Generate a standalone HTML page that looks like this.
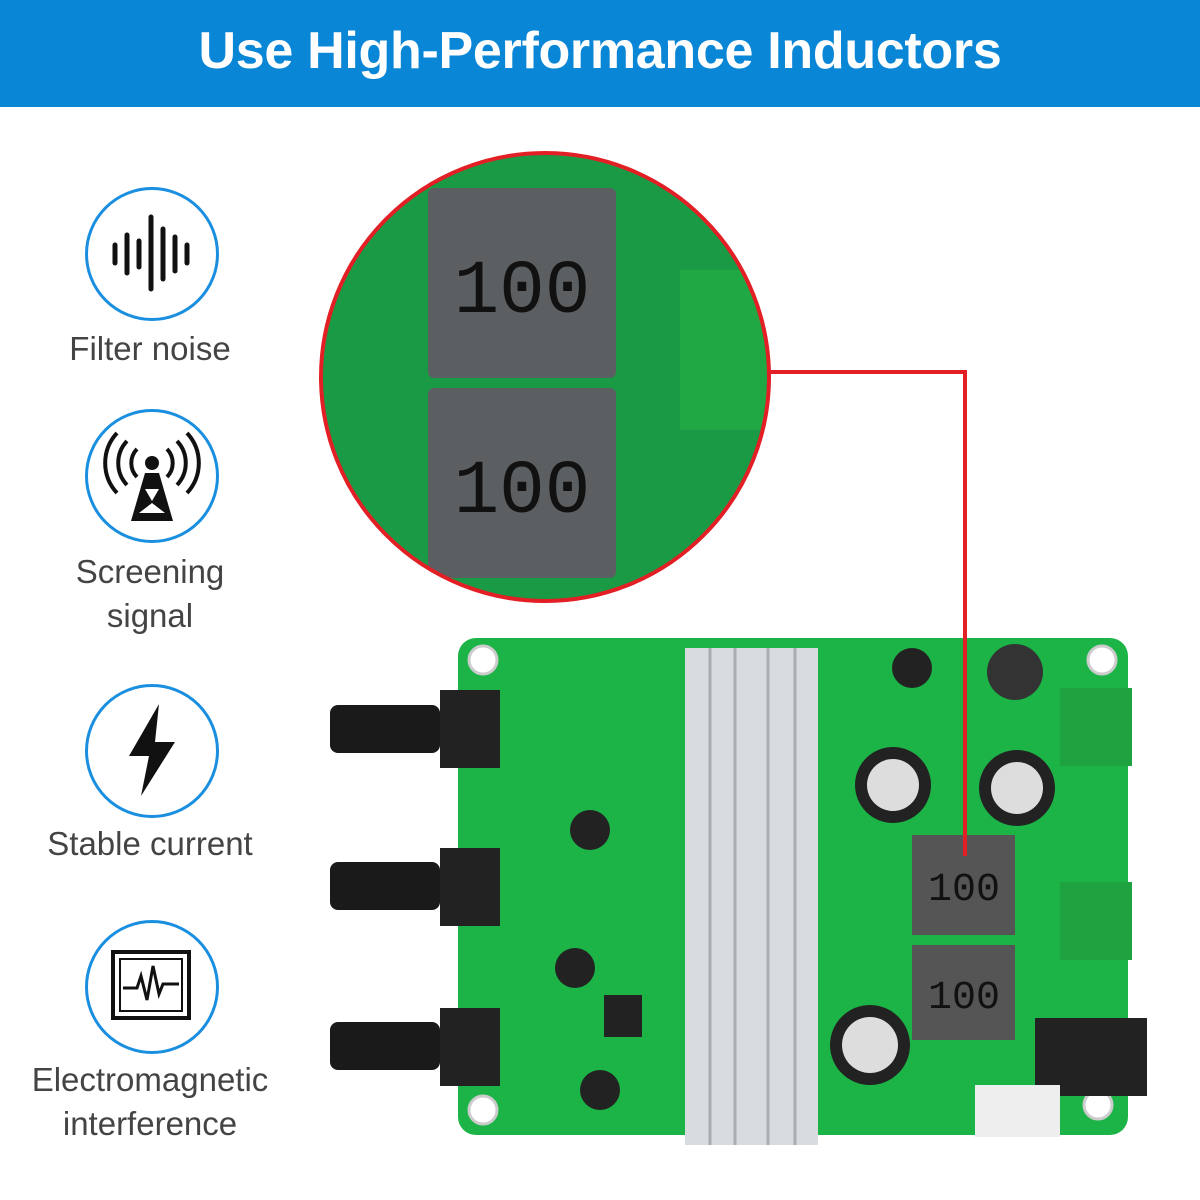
<!DOCTYPE html>
<html><head><meta charset="utf-8"><style>
body{margin:0;width:1200px;height:1200px;background:#fff;position:relative;overflow:hidden;font-family:"Liberation Sans",sans-serif}
.hdr{position:absolute;left:0;top:0;width:1200px;height:107px;background:#0a86d6;color:#fff;font-weight:bold;font-size:52px;text-align:center;line-height:102px;letter-spacing:-0.3px}
.ic{position:absolute;width:128px;height:128px;border:3px solid #1a8fe0;border-radius:50%;left:85px}
.lb{position:absolute;left:0;width:300px;text-align:center;color:#444;font-size:33px;line-height:44px}
.abs{position:absolute}
</style></head><body>
<div class="hdr">Use High-Performance Inductors</div>

<div class="ic" style="top:187px"></div>
<svg class="abs" style="left:85px;top:187px" width="134" height="134"><g stroke="#111" stroke-width="5" stroke-linecap="round">
<line x1="30" y1="58" x2="30" y2="76"/><line x1="42" y1="48" x2="42" y2="86"/><line x1="54" y1="54" x2="54" y2="80"/><line x1="66" y1="30" x2="66" y2="102"/><line x1="78" y1="42" x2="78" y2="92"/><line x1="90" y1="50" x2="90" y2="84"/><line x1="102" y1="58" x2="102" y2="76"/></g></svg>
<div class="lb" style="top:327px">Filter noise</div>

<div class="ic" style="top:409px"></div>
<svg class="abs" style="left:85px;top:409px" width="134" height="134"><g fill="none" stroke="#111" stroke-width="4">
<path d="M52 40 a20 20 0 0 0 0 28"/><path d="M82 40 a20 20 0 0 1 0 28"/><path d="M42 32 a32 32 0 0 0 0 44"/><path d="M92 32 a32 32 0 0 1 0 44"/><path d="M32 24 a44 44 0 0 0 0 60"/><path d="M102 24 a44 44 0 0 1 0 60"/></g>
<circle cx="67" cy="54" r="7" fill="#111"/><path d="M60 64 L74 64 L88 112 L46 112Z" fill="#111"/><path d="M60 80 L74 80 L67 92Z M54 104 L80 104 L67 94Z" fill="#fff"/></svg>
<div class="lb" style="top:550px">Screening<br>signal</div>

<div class="ic" style="top:684px"></div>
<svg class="abs" style="left:85px;top:684px" width="134" height="134"><path d="M74 20 L44 72 L64 72 L56 112 L90 58 L70 58 Z" fill="#111"/></svg>
<div class="lb" style="top:822px">Stable current</div>

<div class="ic" style="top:920px"></div>
<svg class="abs" style="left:85px;top:920px" width="134" height="134"><rect x="28" y="32" width="76" height="66" fill="none" stroke="#111" stroke-width="4"/><rect x="35" y="39" width="62" height="52" fill="none" stroke="#111" stroke-width="2"/><polyline points="38,68 52,68 56,56 62,80 68,46 74,74 78,64 94,64" fill="none" stroke="#111" stroke-width="3"/></svg>
<div class="lb" style="top:1058px">Electromagnetic<br>interference</div>

<svg class="abs" style="left:0;top:0" width="1200" height="1200">
<rect x="458" y="638" width="670" height="497" rx="18" fill="#1db447"/>
<g fill="#fff" stroke="#ccc" stroke-width="3"><circle cx="483" cy="660" r="14"/><circle cx="1102" cy="660" r="14"/><circle cx="483" cy="1110" r="14"/><circle cx="1098" cy="1105" r="14"/></g>
<rect x="685" y="648" width="133" height="497" fill="#d9dcdf"/>
<g stroke="#a9adb1" stroke-width="3"><line x1="710" y1="648" x2="710" y2="1145"/><line x1="735" y1="648" x2="735" y2="1145"/><line x1="768" y1="648" x2="768" y2="1145"/><line x1="795" y1="648" x2="795" y2="1145"/></g>
<g><rect x="330" y="705" width="110" height="48" rx="8" fill="#1a1a1a"/><rect x="440" y="690" width="60" height="78" fill="#222"/>
<rect x="330" y="862" width="110" height="48" rx="8" fill="#1a1a1a"/><rect x="440" y="848" width="60" height="78" fill="#222"/>
<rect x="330" y="1022" width="110" height="48" rx="8" fill="#1a1a1a"/><rect x="440" y="1008" width="60" height="78" fill="#222"/></g>
<rect x="912" y="835" width="103" height="100" fill="#555"/><rect x="912" y="945" width="103" height="95" fill="#555"/>
<text x="964" y="900" font-size="40" fill="#111" text-anchor="middle" font-family="Liberation Mono">100</text>
<text x="964" y="1008" font-size="40" fill="#111" text-anchor="middle" font-family="Liberation Mono">100</text>
<circle cx="1015" cy="672" r="28" fill="#333"/>
<g fill="#222"><circle cx="893" cy="785" r="38"/><circle cx="1017" cy="788" r="38"/><circle cx="870" cy="1045" r="40"/><circle cx="590" cy="830" r="20"/><circle cx="575" cy="968" r="20"/><circle cx="600" cy="1090" r="20"/><circle cx="912" cy="668" r="20"/></g>
<g fill="#ddd"><circle cx="893" cy="785" r="26"/><circle cx="1017" cy="788" r="26"/><circle cx="870" cy="1045" r="28"/></g>
<rect x="1060" y="688" width="72" height="78" fill="#1fa240"/><rect x="1060" y="882" width="72" height="78" fill="#1fa240"/>
<rect x="1035" y="1018" width="112" height="78" fill="#222"/><rect x="975" y="1085" width="85" height="52" fill="#eee"/>
<rect x="604" y="995" width="38" height="42" fill="#222"/>
<defs><clipPath id="c"><circle cx="545" cy="377" r="224"/></clipPath></defs>
<g clip-path="url(#c)"><rect x="300" y="150" width="480" height="460" fill="#1a9a45"/>
<rect x="428" y="188" width="188" height="190" rx="6" fill="#5c5f61"/><rect x="428" y="388" width="188" height="190" rx="6" fill="#5c5f61"/>
<text x="522" y="312" font-size="76" fill="#111" text-anchor="middle" font-family="Liberation Mono">100</text>
<text x="522" y="512" font-size="76" fill="#111" text-anchor="middle" font-family="Liberation Mono">100</text>
<rect x="680" y="270" width="100" height="160" fill="#20a845"/></g>
<circle cx="545" cy="377" r="224" fill="none" stroke="#e31f26" stroke-width="4"/>
<polyline points="770,372 965,372 965,856" fill="none" stroke="#e31f26" stroke-width="4"/>
</svg>
</body></html>
